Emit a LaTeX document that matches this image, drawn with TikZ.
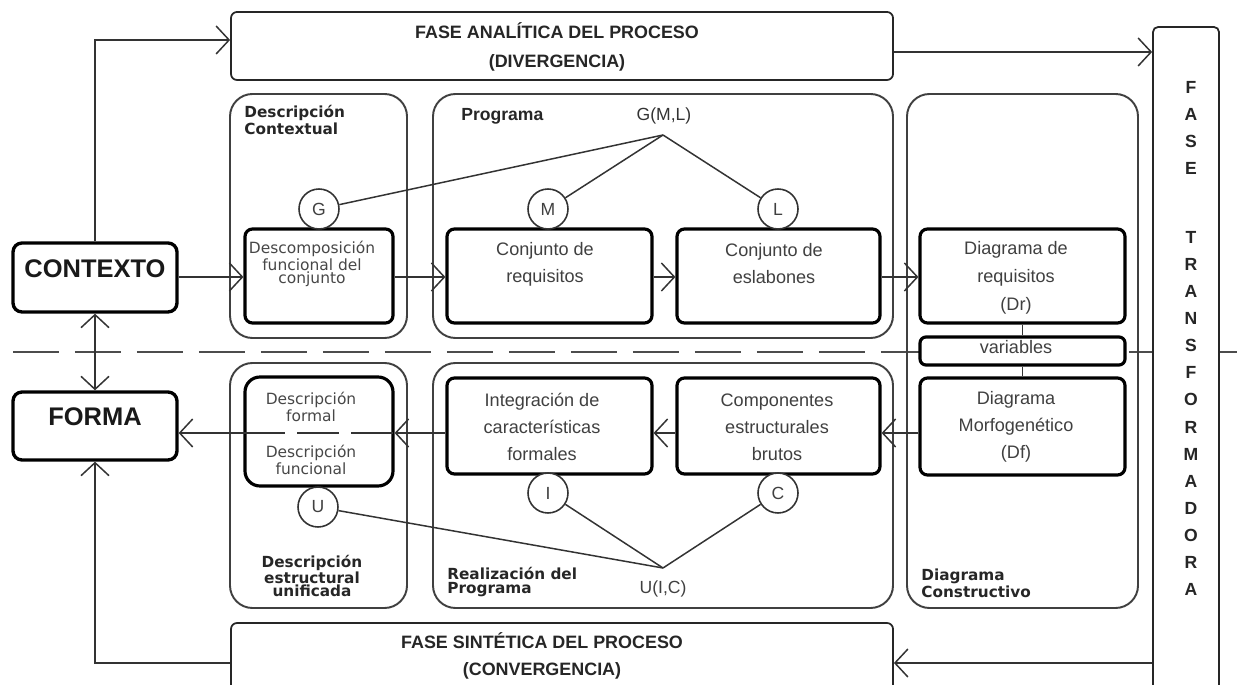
\documentclass[tikz,border=0pt]{standalone}
\usepackage{fontspec}
\setmainfont{Liberation Sans}
\newfontfamily\dvsans{DejaVu Sans}
\usetikzlibrary{arrows.meta,fit}
\begin{document}
\begin{tikzpicture}[x=0.02cm,y=-0.02cm,
  conn/.style={draw=black!80,line width=0.85pt},
  arr/.style={conn,-{Straight Barb[length=2.6mm,width=5.6mm]}},
  biarr/.style={conn,{Straight Barb[length=2.6mm,width=5.6mm]}-{Straight Barb[length=2.6mm,width=5.6mm]}},
  dashline/.style={draw=black!70,line width=1.1pt,dash pattern=on 0.93cm off 0.31cm},
  phase/.style={draw=black!85,line width=1pt,rounded corners=0.12cm,inner sep=0,fill=white},
  group/.style={draw=black!75,line width=1.1pt,rounded corners=0.45cm,inner sep=0},
  stepbox/.style={draw=black,line width=1.8pt,rounded corners=0.15cm,inner sep=0,fill=white},
  bigbox/.style={draw=black,line width=1.9pt,rounded corners=0.18cm,inner sep=0,fill=white,
    font=\bfseries\fontsize{14.5}{16}\selectfont,text=black!90},
  circ/.style={circle,draw=black!80,line width=0.9pt,minimum size=0.8cm,inner sep=0,fill=white,
    font=\fontsize{10}{12}\selectfont,text=black!75},
  phasetxt/.style={font=\bfseries\fontsize{10.2}{16.2}\selectfont,align=center,inner sep=0,text=black!85},
  atxt/.style={font=\fontsize{10.3}{15.4}\selectfont,align=center,inner sep=0,text=black!75},
  ttl/.style={font=\dvsans\bfseries\fontsize{8.7}{7.6}\selectfont,inner sep=0,text=black!85},
  dtxt/.style={font=\dvsans\fontsize{8.8}{7.8}\selectfont,align=center,inner sep=0,text=black!72},
  vlet/.style={font=\bfseries\fontsize{10}{12}\selectfont,inner sep=0,text=black!85}
]
\clip (0,0) rectangle (1250,685);

% row heights used by the horizontal connectors
\coordinate (topRow) at (0,52);
\coordinate (topIn) at (0,40);
\coordinate (rowA) at (0,277);
\coordinate (rowB) at (0,433);
\coordinate (rowC) at (0,663);
\coordinate (dashL) at (13,352);
\coordinate (dashR) at (1247,352);

% dividing line between analysis and synthesis
\draw[dashline] (dashL) -- (dashR);

% group frames
\node[group,fit={(230,94)(407,338)}] (gdc) {};
\node[group,fit={(433,94)(893,338)}] (gpr) {};
\node[group,fit={(907,94)(1138,608)}] (gdk) {};
\node[group,fit={(230,363)(407,608)}] (gde) {};
\node[group,fit={(433,363)(893,608)}] (grp) {};

% phase bars
\node[phase,fit={(231,12)(893,80)}] (fa) {};
\node[phasetxt] (fat) at (557,47) {FASE ANALÍTICA DEL PROCESO\\(DIVERGENCIA)};
\node[phase,fit={(231,623)(893,720)}] (fs) {};
\node[phasetxt,font=\bfseries\fontsize{10.2}{15.2}\selectfont] (fst) at (542,656) {FASE SINTÉTICA DEL PROCESO\\(CONVERGENCIA)};
\node[phase,rounded corners=0.1cm,fit={(1153,27)(1219,720)}] (ft) {};
\foreach \c [count=\i] in {F,A,S,E}
  \node[vlet] (fl\i) at (1191,{87+27*(\i-1)}) {\c};
\foreach \c [count=\i] in {T,R,A,N,S,F,O,R,M,A,D,O,R,A}
  \node[vlet] (tl\i) at (1191,{237+27.15*(\i-1)}) {\c};

% context and form
\node[bigbox,fit={(13,243)(177,312)}] (ctx) {CONTEXTO};
\node[bigbox,fit={(13,392)(177,460)}] (forma) {FORMA};

% group titles
\node[ttl,align=left,anchor=north west] (tdc) at (244,105) {Descripción\\Contextual};
\node[font=\bfseries\fontsize{10}{12}\selectfont,text=black!85,inner sep=0,anchor=west] (tpr) at (461,116) {Programa};
\node[ttl,align=left,anchor=west] (tdk) at (921,583) {Diagrama\\Constructivo};
\node[ttl,align=center] (tde) at (312,576) {Descripción\\estructural\\unificada};
\node[ttl,align=left,anchor=west] (trp) at (447,582) {Realización del\\Programa};

% upper row
\node[stepbox,fit={(245,229)(393,323)}] (dfc) {};
\node[dtxt] (dfct) at (312,264) {Descomposición\\funcional del\\conjunto};
\node[stepbox,fit={(447,229)(652,323)}] (req) {};
\node[atxt] (reqt) at (545,264) {Conjunto de\\requisitos};
\node[stepbox,fit={(677,229)(880,323)}] (esl) {};
\node[atxt] (eslt) at (774,264) {Conjunto de\\eslabones};
\node[stepbox,fit={(920,229)(1125,323)}] (dr) {};
\node[atxt,font=\fontsize{10.3}{16}\selectfont] (drt) at (1016,278) {Diagrama de\\requisitos\\(Dr)};

% variables link
\node[stepbox,rounded corners=0.12cm,fit={(920,337)(1125,365)}] (var) {};
\node[atxt] (vart) at (1016,347) {variables};

% lower row
\node[stepbox,fit={(920,378)(1125,475)}] (df) {};
\node[atxt] (dft) at (1016,427) {Diagrama\\Morfogenético\\(Df)};
\node[stepbox,fit={(677,378)(880,474)}] (cmp) {};
\node[atxt] (cmpt) at (777,427) {Componentes\\estructurales\\brutos};
\node[stepbox,fit={(447,378)(652,474)}] (itg) {};
\node[atxt] (itgt) at (542,427) {Integración de\\características\\formales};
\node[stepbox,rounded corners=0.3cm,fit={(245,377)(393,486)}] (dfm) {};
\node[dtxt] (dfmt1) at (311,407) {Descripción\\formal};
\node[dtxt] (dfmt2) at (311,460) {Descripción\\funcional};

% operators
\node[circ] (G) at (319,209) {G};
\node[circ] (M) at (548,209) {M};
\node[circ] (L) at (778,209) {L};
\node[circ] (U) at (318,507) {U};
\node[circ] (I) at (548,493) {I};
\node[circ] (C) at (778,493) {C};
\coordinate (gml) at (663,135);
\coordinate (uic) at (663,568);
\node[font=\fontsize{10}{12}\selectfont,text=black!80,inner sep=0] (gmlt) at (664,116) {G(M,L)};
\node[font=\fontsize{10}{12}\selectfont,text=black!75,inner sep=0] (uict) at (663,589) {U(I,C)};
\draw[conn] (G) -- (gml);
\draw[conn] (M) -- (gml);
\draw[conn] (L) -- (gml);
\draw[conn] (U) -- (uic);
\draw[conn] (I) -- (uic);
\draw[conn] (C) -- (uic);

% flow connectors
\draw[arr] (ctx.north) |- (fa.west |- topIn);
\draw[arr] (fa.east |- topRow) -- (ft.west |- topRow);
\draw[arr] (ctx.east |- rowA) -- (dfc.west |- rowA);
\draw[arr] (dfc.east |- rowA) -- (req.west |- rowA);
\draw[arr] (req.east |- rowA) -- (esl.west |- rowA);
\draw[arr] (esl.east |- rowA) -- (dr.west |- rowA);
\draw[conn] (dr.south) -- (var.north);
\draw[conn] (var.south) -- (df.north);
\draw[arr] (df.west |- rowB) -- (cmp.east |- rowB);
\draw[arr] (cmp.west |- rowB) -- (itg.east |- rowB);
\draw[arr] (itg.west |- rowB) -- (dfm.east |- rowB);
\draw[conn,dash pattern=on 0.84cm off 0.24cm] (dfm.west |- rowB) -- (dfm.east |- rowB);
\draw[arr] (dfm.west |- rowB) -- (forma.east |- rowB);
\draw[biarr] (ctx.south) -- (forma.north);
\draw[arr] (ft.west |- rowC) -- (fs.east |- rowC);
\draw[arr] (fs.west |- rowC) -| (forma.south);
\end{tikzpicture}
\end{document}
